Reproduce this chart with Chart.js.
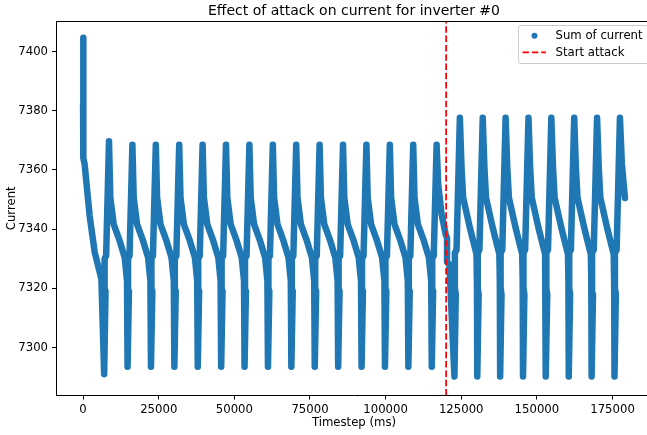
<!DOCTYPE html>
<html>
<head>
<meta charset="utf-8">
<script src="https://cdn.jsdelivr.net/npm/chart.js@4.4.0/dist/chart.umd.min.js"></script>
<style>
  html, body { margin: 0; padding: 0; background: #fff; overflow: hidden; }
  #wrap { width: 647px; height: 435px; overflow: hidden; }
</style>
</head>
<body>
<div id="wrap"><canvas id="currentChart" width="660" height="435"></canvas></div>
<script>
// Timestep (ms) of the summed current, one saw-tooth cycle per line
const timestep = [
    0, 0, 200, 100, 0, 500, 2180, 3840, 6050,
    6965, 7415, 7115, 7115, 7615, 8565, 8995, 10115, 12105, 13755, 14515,
    14700, 15150, 14850, 14850, 15350, 16300, 16730, 17850, 19840, 21490, 22250,
    22435, 22885, 22585, 22585, 23085, 24035, 24465, 25585, 27575, 29225, 29985,
    30170, 30620, 30320, 30320, 30820, 31770, 32200, 33320, 35310, 36960, 37720,
    37905, 38355, 38055, 38055, 38555, 39505, 39935, 41055, 43045, 44695, 45455,
    45640, 46090, 45790, 45790, 46290, 47240, 47670, 48790, 50780, 52430, 53190,
    53375, 53825, 53525, 53525, 54025, 54975, 55405, 56525, 58515, 60165, 60925,
    61110, 61560, 61260, 61260, 61760, 62710, 63140, 64260, 66250, 67900, 68660,
    68845, 69295, 68995, 68995, 69495, 70445, 70875, 71995, 73985, 75635, 76395,
    76580, 77030, 76730, 76730, 77230, 78180, 78610, 79730, 81720, 83370, 84130,
    84315, 84765, 84465, 84465, 84965, 85915, 86345, 87465, 89455, 91105, 91865,
    92050, 92500, 92200, 92200, 92700, 93650, 94080, 95200, 97190, 98840, 99600,
    99785, 100235, 99935, 99935, 100435, 101385, 101815, 102935, 104925, 106575, 107335,
    107520, 107970, 107670, 107670, 108170, 109120, 109550, 110670, 112660, 114310, 115070,
    115255, 115705, 115405, 115405, 115905, 116855, 117385, 118505, 119900, 120300, 120300, 121100,
    122742, 123192, 122892, 122892, 123442, 124542, 125102, 125632, 127842, 130042, 130192,
    130301, 130751, 130451, 130451, 131001, 132101, 132661, 133191, 135401, 137601, 137751,
    137860, 138310, 138010, 138010, 138560, 139660, 140220, 140750, 142960, 145160, 145310,
    145419, 145869, 145569, 145569, 146119, 147219, 147779, 148309, 150519, 152719, 152869,
    152978, 153428, 153128, 153128, 153678, 154778, 155338, 155868, 158078, 160278, 160428,
    160537, 160987, 160687, 160687, 161237, 162337, 162897, 163427, 165637, 167837, 167987,
    168096, 168546, 168246, 168246, 168796, 169896, 170456, 170986, 173196, 175396, 175546,
    175655, 176105, 175805, 175805, 176355, 177455, 178100, 179100
];

// Sum of current at each timestep above
const current = [
    7382, 7404.6, 7392, 7386, 7364, 7362, 7344.4, 7332.2, 7323.2,
    7291, 7319, 7320, 7330, 7331, 7369.7, 7350.6, 7341.6, 7336, 7330.4, 7322.6,
    7293.5, 7319, 7320, 7330, 7331, 7368.5, 7350.6, 7341.6, 7336, 7330.4, 7322.6,
    7293.5, 7319, 7320, 7330, 7331, 7368.5, 7350.6, 7341.6, 7336, 7330.4, 7322.6,
    7293.5, 7319, 7320, 7330, 7331, 7368.5, 7350.6, 7341.6, 7336, 7330.4, 7322.6,
    7293.5, 7319, 7320, 7330, 7331, 7368.5, 7350.6, 7341.6, 7336, 7330.4, 7322.6,
    7293.5, 7319, 7320, 7330, 7331, 7368.5, 7350.6, 7341.6, 7336, 7330.4, 7322.6,
    7293.5, 7319, 7320, 7330, 7331, 7368.5, 7350.6, 7341.6, 7336, 7330.4, 7322.6,
    7293.5, 7319, 7320, 7330, 7331, 7368.5, 7350.6, 7341.6, 7336, 7330.4, 7322.6,
    7293.5, 7319, 7320, 7330, 7331, 7368.5, 7350.6, 7341.6, 7336, 7330.4, 7322.6,
    7293.5, 7319, 7320, 7330, 7331, 7368.5, 7350.6, 7341.6, 7336, 7330.4, 7322.6,
    7293.5, 7319, 7320, 7330, 7331, 7368.5, 7350.6, 7341.6, 7336, 7330.4, 7322.6,
    7293.5, 7319, 7320, 7330, 7331, 7368.5, 7350.6, 7341.6, 7336, 7330.4, 7322.6,
    7293.5, 7319, 7320, 7330, 7331, 7368.5, 7350.6, 7341.6, 7336, 7330.4, 7322.6,
    7293.5, 7319, 7320, 7330, 7331, 7368.5, 7350.6, 7341.6, 7336, 7330.4, 7322.6,
    7293.5, 7319, 7320, 7330, 7331, 7368.5, 7355, 7345, 7338, 7337, 7329, 7328,
    7290.2, 7318, 7320, 7332, 7333, 7377.6, 7360.7, 7350.6, 7340.5, 7331.5, 7322,
    7290.2, 7318, 7320, 7332, 7333, 7377.6, 7360.7, 7350.6, 7340.5, 7331.5, 7322,
    7290.2, 7318, 7320, 7332, 7333, 7377.6, 7360.7, 7350.6, 7340.5, 7331.5, 7322,
    7290.2, 7318, 7320, 7332, 7333, 7377.6, 7360.7, 7350.6, 7340.5, 7331.5, 7322,
    7290.2, 7318, 7320, 7332, 7333, 7377.6, 7360.7, 7350.6, 7340.5, 7331.5, 7322,
    7290.2, 7318, 7320, 7332, 7333, 7377.6, 7360.7, 7350.6, 7340.5, 7331.5, 7322,
    7290.2, 7318, 7320, 7332, 7333, 7377.6, 7360.7, 7350.6, 7340.5, 7331.5, 7322,
    7290.2, 7318, 7320, 7332, 7333, 7377.6, 7362, 7350.5
];

const attackStart = 120000;
const xTicks = [0, 25000, 50000, 75000, 100000, 125000, 150000, 175000];
const yTicks = [7300, 7320, 7340, 7360, 7380, 7400];
const xRange = [-8955, 188055];
const yRange = [7283.8, 7410.3];

const chartTitle = 'Effect of attack on current for inverter #0';
const FONT = '"DejaVu Sans", "Liberation Sans", sans-serif';

// title, top spine and the boxed legend inside the plot
const frameAndLegend = {
    id: 'frameAndLegend',
    afterDraw(chart) {
        const { ctx, chartArea: a } = chart;
        ctx.save();
        ctx.strokeStyle = '#000';
        ctx.lineWidth = 1;
        ctx.beginPath();
        ctx.moveTo(a.left, Math.round(a.top) + 0.5);
        ctx.lineTo(a.right, Math.round(a.top) + 0.5);
        ctx.stroke();

        ctx.fillStyle = '#000';
        ctx.font = '14px ' + FONT;
        ctx.textAlign = 'center';
        ctx.textBaseline = 'alphabetic';
        ctx.fillText(chartTitle, (a.left + a.right) / 2, 15);

        // legend box
        ctx.beginPath();
        ctx.roundRect(518.5, 25.5, 130, 38, 2.5);
        ctx.fillStyle = 'rgba(255,255,255,0.8)';
        ctx.fill();
        ctx.strokeStyle = '#cccccc';
        ctx.stroke();

        const ds = chart.data.datasets;
        ctx.font = '11.7px ' + FONT;
        ctx.textAlign = 'left';
        ctx.textBaseline = 'middle';

        ctx.fillStyle = ds[0].borderColor;
        ctx.beginPath();
        ctx.arc(534.5, 35.7, 3, 0, Math.PI * 2);
        ctx.fill();
        ctx.fillStyle = '#000';
        ctx.fillText(ds[0].label, 555.5, 36);

        ctx.strokeStyle = ds[1].borderColor;
        ctx.lineWidth = ds[1].borderWidth;
        ctx.setLineDash(ds[1].borderDash);
        ctx.beginPath();
        ctx.moveTo(522.5, 52.3);
        ctx.lineTo(546, 52.3);
        ctx.stroke();
        ctx.setLineDash([]);
        ctx.fillText(ds[1].label, 555.5, 52.5);
        ctx.restore();
    }
};

const tickFont = { family: FONT, size: 11.7 };

new Chart(document.getElementById('currentChart'), {
    type: 'scatter',
    data: {
        datasets: [{
            label: 'Sum of current',
            data: timestep.map((t, i) => ({ x: t, y: current[i] })),
            showLine: true,
            borderColor: '#1f77b4',
            backgroundColor: '#1f77b4',
            borderWidth: 6.5,
            borderJoinStyle: 'round',
            borderCapStyle: 'round',
            pointRadius: 0,
            tension: 0,
            order: 1
        }, {
            label: 'Start attack',
            data: [{ x: attackStart, y: yRange[0] }, { x: attackStart, y: yRange[1] }],
            showLine: true,
            borderColor: '#ff0000',
            borderWidth: 1.75,
            borderDash: [6.5, 2.8],
            pointRadius: 0,
            order: 0
        }]
    },
    options: {
        responsive: false,
        animation: false,
        events: [],
        layout: { padding: { top: 21, right: 8, bottom: 0, left: 0 } },
        plugins: {
            legend: { display: false },
            title: { display: false },
            tooltip: { enabled: false }
        },
        scales: {
            x: {
                type: 'linear',
                min: xRange[0],
                max: xRange[1],
                afterFit: s => { s.height = 39.5; },
                afterBuildTicks: s => { s.ticks = xTicks.map(v => ({ value: v })); },
                ticks: {
                    font: tickFont, color: '#000', padding: 3,
                    autoSkip: false, maxRotation: 0,
                    callback: v => String(v)
                },
                grid: { drawOnChartArea: false, drawTicks: true, tickLength: 4, color: '#000' },
                border: { display: true, color: '#000', width: 1 },
                title: { display: true, text: 'Timestep (ms)', font: tickFont, color: '#000', padding: { top: 0, bottom: 5 } }
            },
            y: {
                type: 'linear',
                min: yRange[0],
                max: yRange[1],
                afterFit: s => { s.width = 56; },
                afterBuildTicks: s => { s.ticks = yTicks.map(v => ({ value: v })); },
                ticks: {
                    font: tickFont, color: '#000', padding: 4,
                    callback: v => String(v)
                },
                grid: { drawOnChartArea: false, drawTicks: true, tickLength: 4, color: '#000' },
                border: { display: true, color: '#000', width: 1 },
                title: { display: true, text: 'Current', font: tickFont, color: '#000', padding: { top: 5, bottom: 0 } }
            }
        }
    },
    plugins: [frameAndLegend]
});
</script>
</body>
</html>
